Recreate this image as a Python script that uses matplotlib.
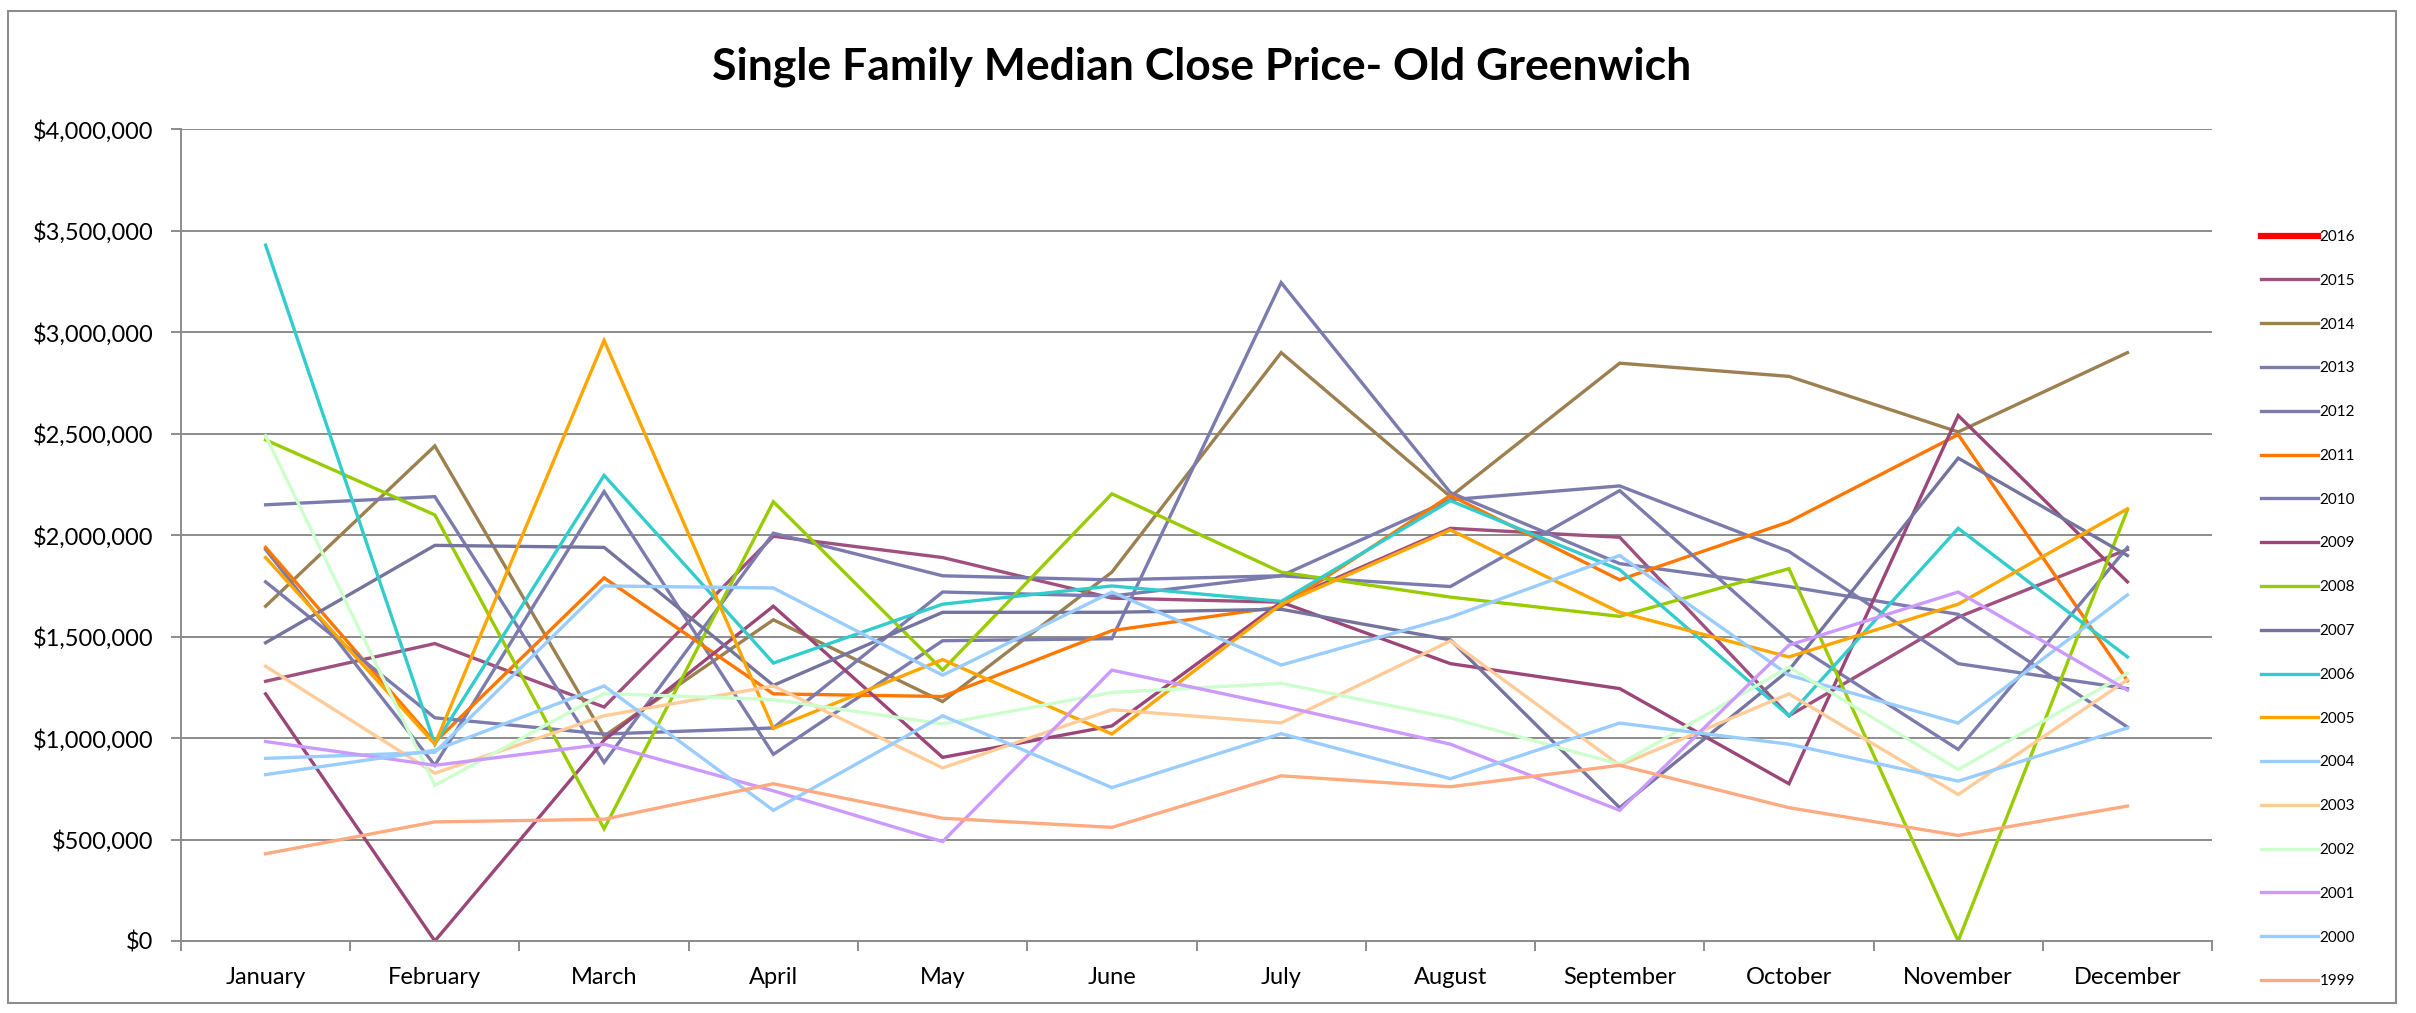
import numpy as np
import matplotlib.pyplot as plt
from matplotlib.ticker import FuncFormatter, MultipleLocator
from matplotlib.patches import Rectangle

plt.rcParams['font.family'] = ['Lato', 'DejaVu Sans']

months = ["January", "February", "March", "April", "May", "June",
          "July", "August", "September", "October", "November", "December"]

# median close price per month, one list per year (2016 has no data yet)
p2016 = []
p2015 = [1280000, 1466000, 1153000, 1995000, 1890000, 1690000, 1670000, 2034000, 1990000, 1110000, 1596000, 1930000]
p2014 = [1650000, 2440000, 1010000, 1583000, 1180000, 1818000, 2900000, 2190000, 2848000, 2783000, 2509000, 2900000]
p2013 = [2150000, 2190000, 880000, 2010000, 1800000, 1780000, 1800000, 2175000, 2243000, 1920000, 1367000, 1244000]
p2012 = [1930000, 866000, 2215000, 920000, 1480000, 1490000, 3245000, 2210000, 1860000, 1747000, 1610000, 1054000]
p2011 = [1940000, 980000, 1790000, 1218000, 1205000, 1530000, 1648000, 2196000, 1780000, 2066000, 2496000, 1283000]
p2010 = [1770000, 1100000, 1020000, 1050000, 1720000, 1700000, 1800000, 1747000, 2220000, 1480000, 944000, 1940000]
p2009 = [1218000, 0, 990000, 1650000, 905000, 1060000, 1670000, 1367000, 1244000, 775000, 2590000, 1770000]
p2008 = [2470000, 2100000, 553000, 2165000, 1335000, 2204000, 1818000, 1695000, 1600000, 1835000, 0, 2125000]
p2007 = [1470000, 1950000, 1940000, 1260000, 1620000, 1620000, 1635000, 1484000, 657000, 1335000, 2380000, 1900000]
p2006 = [3430000, 970000, 2295000, 1370000, 1660000, 1750000, 1674000, 2170000, 1830000, 1110000, 2034000, 1400000]
p2005 = [1890000, 970000, 2960000, 1048000, 1387000, 1020000, 1660000, 2026000, 1620000, 1400000, 1660000, 2130000]
p2004 = [900000, 930000, 1750000, 1740000, 1310000, 1720000, 1360000, 1596000, 1900000, 1310000, 1074000, 1706000]
p2003 = [1354000, 827000, 1110000, 1257000, 853000, 1140000, 1075000, 1479000, 866000, 1218000, 722000, 1288000]
p2002 = [2490000, 767000, 1220000, 1190000, 1070000, 1225000, 1270000, 1100000, 871000, 1350000, 845000, 1320000]
p2001 = [983000, 866000, 970000, 740000, 490000, 1335000, 1158000, 970000, 644000, 1458000, 1720000, 1236000]
p2000 = [820000, 940000, 1257000, 644000, 1110000, 756000, 1022000, 800000, 1074000, 970000, 788000, 1050000]
p1999 = [430000, 587000, 600000, 775000, 605000, 560000, 814000, 760000, 866000, 657000, 520000, 665000]

years = ["2016", "2015", "2014", "2013", "2012", "2011", "2010", "2009", "2008",
         "2007", "2006", "2005", "2004", "2003", "2002", "2001", "2000", "1999"]
series = [p2016, p2015, p2014, p2013, p2012, p2011, p2010, p2009, p2008,
          p2007, p2006, p2005, p2004, p2003, p2002, p2001, p2000, p1999]
colors = ["#FF0000", "#A0507F", "#9C8050", "#7B7BAE", "#7B7BAE", "#FF7700",
          "#7B7BAE", "#9B4678", "#99CC00", "#74749F", "#33CCCC", "#FFA500",
          "#99CCFF", "#FFCC99", "#CCFFCC", "#CC99FF", "#99CCFF", "#FFAA80"]

fig = plt.figure(figsize=(24.16, 10.13), dpi=100)
ax = fig.add_axes([0.0749, 0.0711, 0.8407, 0.8011])

x = np.arange(len(months))
handles = []
for yr, vals, col in zip(years, series, colors):
    lw = 4.5 if yr == "2016" else 2.4
    line, = ax.plot(x[:len(vals)], vals, color=col, lw=lw, label=yr,
                    solid_joinstyle='miter')
    handles.append(line)

ax.set_xlim(-0.5, len(months) - 0.5)
ax.set_ylim(0, 4000000)
ax.yaxis.set_major_locator(MultipleLocator(500000))
ax.yaxis.set_major_formatter(FuncFormatter(lambda v, p: f"${v:,.0f}"))
ax.set_xticks(x)
ax.set_xticklabels(months)
ax.set_xticks(np.arange(-0.5, len(months)), minor=True)

grid_col = "#8C8C8C"
ax.grid(axis='y', color=grid_col, lw=1.4)
ax.set_axisbelow(True)
for s in ['top', 'right']:
    ax.spines[s].set_visible(False)
for s in ['left', 'bottom']:
    ax.spines[s].set_color(grid_col)
    ax.spines[s].set_linewidth(1.4)

ax.tick_params(axis='y', length=7, width=1.4, color=grid_col, labelsize=17, pad=13)
ax.tick_params(axis='x', which='major', length=0, labelsize=17, pad=19)
ax.tick_params(axis='x', which='minor', length=7, width=1.4, color=grid_col)

fig.text(0.4975, 0.934, "Single Family Median Close Price- Old Greenwich",
         ha='center', va='center', fontsize=32, fontweight='bold')

fig.legend(handles=handles, loc='upper left', bbox_to_anchor=(0.936, 0.773),
           frameon=False, fontsize=11, handlelength=3.7, handletextpad=0.1,
           labelspacing=1.95, borderpad=0, borderaxespad=0)

# chart border
fig.patches.append(Rectangle((0.0033, 0.0099), 0.9884, 0.9792, transform=fig.transFigure,
                             fill=False, edgecolor="#8C8C8C", lw=1.5))

fig.savefig("out.png", dpi=100)
